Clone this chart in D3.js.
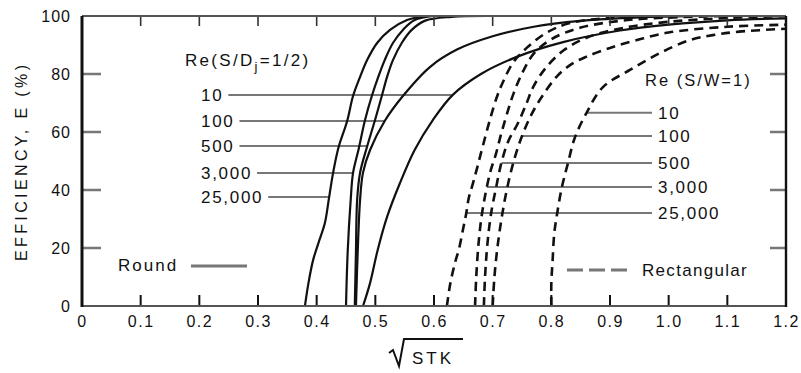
<!DOCTYPE html>
<html>
<head>
<meta charset="utf-8">
<script src="https://cdn.jsdelivr.net/npm/d3@7"></script>
<style>
  html, body { margin: 0; padding: 0; background: #fff; }
  svg { display: block; font-family: "Liberation Sans", Arial, Helvetica, sans-serif; }
</style>
</head>
<body>
<svg id="chart" width="801" height="373"></svg>
<script>
// ---- data ----------------------------------------------------------------
const xTicks = [0, 0.1, 0.2, 0.3, 0.4, 0.5, 0.6, 0.7, 0.8, 0.9, 1.0, 1.1, 1.2];
const xTickLabels = ["0", "0.1", "0.2", "0.3", "0.4", "0.5", "0.6", "0.7", "0.8", "0.9", "1.0", "1.1", "1.2"];
const yTicks = [0, 20, 40, 60, 80, 100];
const reLabels = ["10", "100", "500", "3,000", "25,000"];

// Round jets, Re(S/Dj = 1/2): [sqrt(STK), efficiency %]
const round10 = [[0.479,0],[0.491,7.9],[0.504,19.3],[0.52,30.7],[0.542,42.4],[0.567,53.8],[0.598,64.1],[0.632,72.8],[0.68,80],[0.741,85.9],[0.82,91],[0.917,95],[1.0,97],[1.1,98.5],[1.2,99.2]];
const round100 = [[0.467,0],[0.47,19],[0.474,36.6],[0.479,46],[0.491,53.8],[0.516,63.8],[0.547,72.4],[0.593,82.4],[0.64,88.5],[0.70,93],[0.77,96.3],[0.85,98.3],[0.95,99.5],[1.05,100]];
const round500 = [[0.465,0],[0.467,19],[0.469,36.6],[0.474,46],[0.486,55],[0.499,63.8],[0.511,72.4],[0.52,79],[0.53,84.8],[0.545,90.7],[0.562,95.2],[0.585,98.4],[0.63,99.7],[0.7,100]];
const round3000 = [[0.450,0],[0.453,19.3],[0.458,36.6],[0.462,45.9],[0.472,54.5],[0.482,63.8],[0.494,72.4],[0.505,79],[0.516,84.8],[0.53,90.7],[0.547,95.2],[0.567,98.6],[0.60,100]];
const round25000 = [[0.380,0],[0.386,7.9],[0.394,15.9],[0.403,21.7],[0.414,28.6],[0.421,37.2],[0.428,45.9],[0.437,54.5],[0.452,63.8],[0.462,72.4],[0.474,79],[0.486,84.8],[0.503,90.7],[0.525,95.2],[0.554,98.6],[0.585,100]];

// Rectangular jets, Re(S/W = 1)
const rect10 = [[0.800,0],[0.800,8],[0.802,15],[0.805,25],[0.81,32],[0.818,41],[0.828,49],[0.84,58],[0.86,66.6],[0.888,75.5],[0.934,81.4],[0.985,87.2],[1.036,91.7],[1.075,93.4],[1.12,94.6],[1.2,95.6]];
const rect100 = [[0.700,0],[0.703,10],[0.708,20],[0.715,30],[0.724,40],[0.736,50],[0.750,58.6],[0.766,66],[0.785,72.5],[0.81,79.3],[0.835,83.5],[0.86,86],[0.9,89],[0.946,91.7],[1.0,94.3],[1.1,96.3],[1.2,97]];
const rect500 = [[0.685,0],[0.687,10],[0.690,19],[0.694,27],[0.699,34],[0.705,40],[0.711,46],[0.717,51],[0.727,57],[0.743,63],[0.758,70],[0.769,75.5],[0.79,82],[0.82,88],[0.86,92.5],[0.92,95.8],[1.0,98],[1.1,99.3],[1.2,100]];
const rect3000 = [[0.670,0],[0.672,10],[0.676,21.7],[0.681,30.7],[0.688,39],[0.697,47],[0.705,52],[0.714,59],[0.724,66],[0.736,73.5],[0.752,81],[0.77,87],[0.8,92],[0.85,96],[0.93,98.6],[1.02,99.6],[1.1,100]];
const rect25000 = [[0.622,0],[0.628,8],[0.636,15],[0.643,20],[0.650,27],[0.655,32],[0.659,37],[0.666,42],[0.674,48],[0.683,55],[0.695,64],[0.707,72],[0.717,77],[0.735,84],[0.758,89],[0.79,94],[0.83,97.5],[0.9,99.3],[1.0,100]];

// Efficiency level at which each label's leader meets its curve
const roundLeaderE = [72.8, 63.8, 55.2, 45.9, 37.6];
const rectLeaderE = [66.6, 58.6, 49.3, 41.0, 32.1];

// ---- layout ----------------------------------------------------------------
const svg = d3.select("#chart");
const xScale = d3.scaleLinear().domain([0, 1.2]).range([82, 786]);
const yScale = d3.scaleLinear().domain([0, 100]).range([306, 16]);

const roundCurves = [round10, round100, round500, round3000, round25000];
const rectCurves = [rect10, rect100, rect500, rect3000, rect25000];

// x position where a curve reaches efficiency e (linear between samples)
function xAtE(curve, e) {
  for (let i = 1; i < curve.length; i++) {
    const [x0, e0] = curve[i - 1], [x1, e1] = curve[i];
    if (e >= e0 && e <= e1 && e1 !== e0) return x0 + (x1 - x0) * (e - e0) / (e1 - e0);
  }
  return curve[curve.length - 1][0];
}

svg.append("defs").append("clipPath").attr("id", "plotClip")
  .append("rect").attr("x", xScale(0)).attr("y", yScale(100) - 1)
  .attr("width", xScale(1.2) - xScale(0)).attr("height", yScale(0) - yScale(100) + 1);

const ink = "#111";
const grey = "#777";

// ---- axis labels -------------------------------------------------------------
function styleAxis(g) {
  g.select(".domain").remove();
  g.attr("font-family", null).attr("font-size", null);
}

svg.append("g").attr("transform", `translate(0,${yScale(0)})`)
  .call(d3.axisBottom(xScale).tickValues(xTicks).tickFormat((d, i) => xTickLabels[i]).tickSize(0).tickPadding(10))
  .call(styleAxis)
  .selectAll("text").attr("font-size", 16).attr("fill", ink).attr("letter-spacing", "1.5px");

svg.append("g").attr("transform", `translate(${xScale(0)},0)`)
  .call(d3.axisLeft(yScale).tickValues(yTicks).tickSize(0).tickPadding(11))
  .call(styleAxis)
  .selectAll("text").attr("font-size", 16).attr("fill", ink).attr("letter-spacing", "1px");

// axis titles
svg.append("text")
  .attr("transform", `translate(27,${(yScale(0) + yScale(100)) / 2 + 2}) rotate(-90)`)
  .attr("text-anchor", "middle").attr("font-size", 16).attr("fill", ink)
  .attr("textLength", 196).attr("lengthAdjust", "spacing")
  .text("EFFICIENCY, E (%)");

svg.append("path")
  .attr("d", "M389,353 L393,350 L399,366 L404,339 L463,339")
  .attr("fill", "none").attr("stroke", ink).attr("stroke-width", 2).attr("stroke-linejoin", "miter");
svg.append("text").attr("x", 412).attr("y", 364).attr("font-size", 17).attr("fill", ink)
  .attr("letter-spacing", "3px").text("STK");

// ---- label blocks with leaders ---------------------------------------------
const leaders = svg.append("g");
const labelText = svg.append("g").attr("font-size", 17).attr("fill", ink);

// Round jets (labels on the left, leaders run right to each curve)
labelText.append("text").attr("x", 185).attr("y", 66).attr("letter-spacing", "2.3px")
  .call(t => {
    t.append("tspan").text("Re(S/D");
    t.append("tspan").attr("font-size", 13).attr("dy", 5).text("j");
    t.append("tspan").attr("dy", -5).text("=1/2)");
  });

reLabels.forEach((lab, i) => {
  const yy = yScale(roundLeaderE[i]);
  const t = labelText.append("text").attr("x", 201).attr("y", yy + 6).attr("letter-spacing", "1.7px").text(lab);
  const end = 201 + t.node().getComputedTextLength() + 5;
  leaders.append("line").attr("x1", end).attr("x2", xScale(xAtE(roundCurves[i], roundLeaderE[i])))
    .attr("y1", yy).attr("y2", yy).attr("stroke", grey).attr("stroke-width", 2);
});

// Rectangular jets (labels on the right, leaders run left to each curve)
labelText.append("text").attr("x", 645).attr("y", 86).attr("font-size", 16.5)
  .attr("letter-spacing", "2px").text("Re (S/W=1)");
reLabels.forEach((lab, i) => {
  const yy = yScale(rectLeaderE[i]);
  labelText.append("text").attr("x", 658).attr("y", yy + 6).attr("letter-spacing", "1.7px").text(lab);
  leaders.append("line").attr("x1", xScale(xAtE(rectCurves[i], rectLeaderE[i]))).attr("x2", 652)
    .attr("y1", yy).attr("y2", yy).attr("stroke", grey).attr("stroke-width", 2);
});

// Legend samples
labelText.append("text").attr("x", 118).attr("y", 271).attr("letter-spacing", "2px").text("Round");
leaders.append("line").attr("x1", 191).attr("x2", 247).attr("y1", 266).attr("y2", 266)
  .attr("stroke", grey).attr("stroke-width", 3);
labelText.append("text").attr("x", 642).attr("y", 276).attr("letter-spacing", "1.3px").text("Rectangular");
leaders.append("line").attr("x1", 567).attr("x2", 631).attr("y1", 270).attr("y2", 270)
  .attr("stroke", grey).attr("stroke-width", 3.2).attr("stroke-dasharray", "16,6");

// ---- curves ----------------------------------------------------------------
const lineGen = d3.line().x(d => xScale(d[0])).y(d => yScale(d[1])).curve(d3.curveCatmullRom.alpha(0.5));
const curveG = svg.append("g").attr("clip-path", "url(#plotClip)").attr("fill", "none");

curveG.selectAll("path.round").data(roundCurves).join("path")
  .attr("class", "round").attr("d", lineGen)
  .attr("stroke", ink).attr("stroke-width", 2.2).attr("stroke-linecap", "round");

curveG.selectAll("path.rect").data(rectCurves).join("path")
  .attr("class", "rect").attr("d", lineGen)
  .attr("stroke", ink).attr("stroke-width", 2.6).attr("stroke-dasharray", "9,6");

// ---- frame and inward tick marks (drawn last, on top) -----------------------
const innerX = xTicks.slice(1, -1);
const innerY = yTicks.slice(1, -1);

const bottomTicks = d3.path();
innerX.forEach(v => { bottomTicks.moveTo(xScale(v), yScale(0)); bottomTicks.lineTo(xScale(v), yScale(0) - 11); });
svg.append("path").attr("d", bottomTicks.toString()).attr("fill", "none")
  .attr("stroke", ink).attr("stroke-width", 2);

const topTicks = d3.path();
innerX.forEach(v => { topTicks.moveTo(xScale(v), yScale(100)); topTicks.lineTo(xScale(v), yScale(100) + 10); });
svg.append("path").attr("d", topTicks.toString()).attr("fill", "none")
  .attr("stroke", "#333").attr("stroke-width", 1.6);

const sideTicks = d3.path();
innerY.forEach(v => {
  sideTicks.moveTo(xScale(0), yScale(v)); sideTicks.lineTo(xScale(0) + 19, yScale(v));
  sideTicks.moveTo(xScale(1.2), yScale(v)); sideTicks.lineTo(xScale(1.2) - 16, yScale(v));
});
svg.append("path").attr("d", sideTicks.toString()).attr("fill", "none")
  .attr("stroke", grey).attr("stroke-width", 2.5);

const frameTB = d3.path();
frameTB.moveTo(xScale(0), yScale(100)); frameTB.lineTo(xScale(1.2), yScale(100));
frameTB.moveTo(xScale(0), yScale(0)); frameTB.lineTo(xScale(1.2), yScale(0));
svg.append("path").attr("d", frameTB.toString()).attr("fill", "none")
  .attr("stroke", "#555").attr("stroke-width", 2.1);

const frameL = d3.path();
frameL.moveTo(xScale(0), yScale(100)); frameL.lineTo(xScale(0), yScale(0) + 1);
svg.append("path").attr("d", frameL.toString()).attr("fill", "none")
  .attr("stroke", ink).attr("stroke-width", 3);

const frameR = d3.path();
frameR.moveTo(xScale(1.2), yScale(100)); frameR.lineTo(xScale(1.2), yScale(0) + 1);
svg.append("path").attr("d", frameR.toString()).attr("fill", "none")
  .attr("stroke", ink).attr("stroke-width", 2.4);
</script>
</body>
</html>
